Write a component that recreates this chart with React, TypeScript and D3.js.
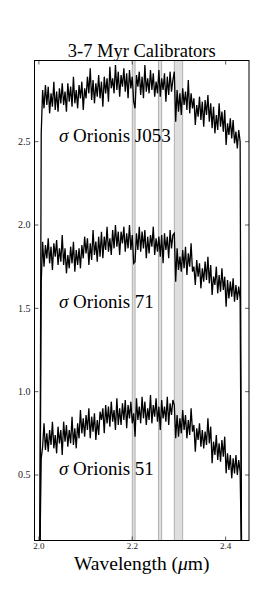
import React from 'react';
import * as d3 from 'd3';

const W = 277;
const H = 602;
const M = { left: 34.5, right: 249, top: 60.5, bottom: 540.5 };

const X_DOMAIN = [1.9906, 2.45];
const Y_DOMAIN = [0.107, 2.987];
const xTicks = [2.0, 2.2, 2.4];
const xTickLabels = ['2.0', '2.2', '2.4'];
const yTicks = [0.5, 1.0, 1.5, 2.0, 2.5];
const yTickLabels = ['0.5', '1.0', '1.5', '2.0', '2.5'];
const bands = [[2.2, 2.206], [2.256, 2.263], [2.29, 2.308]];
const starNames = ['J053', '71', '51'];
const labelY = [2.5, 1.5, 0.5];
const LABEL_X = 2.043;
const WL_START = 2.005;
const WL_STEP = 0.003;
const WL_EDGES = [2.002, 2.434];

const fluxJ053 = [
  2.55, 2.81, 2.70, 2.84, 2.72, 2.83, 2.67, 2.79, 2.71, 2.86, 2.69, 2.80, 2.68, 2.82, 2.73, 2.85,
  2.72, 2.80, 2.68, 2.85, 2.74, 2.83, 2.71, 2.89, 2.73, 2.81, 2.70, 2.84, 2.76, 2.86, 2.69, 2.82,
  2.76, 2.89, 2.79, 2.94, 2.75, 2.87, 2.73, 2.85, 2.77, 2.90, 2.76, 2.86, 2.71, 2.89, 2.79, 2.88,
  2.74, 2.95, 2.82, 2.88, 2.79, 2.96, 2.81, 2.92, 2.77, 2.90, 2.83, 2.94, 2.80, 2.91, 2.76, 2.93,
  2.82, 2.89, 2.74, 2.70, 2.90, 2.83, 2.92, 2.78, 2.89, 2.76, 2.96, 2.80, 2.88, 2.79, 2.93, 2.81,
  2.91, 2.77, 2.86, 2.79, 2.93, 2.77, 2.88, 2.81, 2.91, 2.74, 2.89, 2.78, 2.92, 2.80, 2.87, 2.92,
  2.62, 2.81, 2.68, 2.79, 2.66, 2.82, 2.72, 2.80, 2.69, 2.87, 2.67, 2.79, 2.70, 2.76, 2.60, 2.72,
  2.65, 2.77, 2.63, 2.74, 2.59, 2.75, 2.66, 2.78, 2.62, 2.73, 2.58, 2.71, 2.55, 2.66, 2.57, 2.73,
  2.59, 2.68, 2.56, 2.69, 2.48, 2.61, 2.54, 2.64, 2.52, 2.63, 2.49, 2.56, 2.46, 2.57, 2.50,
];

const flux71 = [
  1.66, 1.90, 1.75, 1.88, 1.80, 1.92, 1.77, 1.87, 1.73, 1.89, 1.81, 1.91, 1.76, 1.86, 1.78, 1.94,
  1.76, 1.86, 1.71, 1.82, 1.74, 1.87, 1.77, 1.90, 1.72, 1.85, 1.76, 1.86, 1.74, 1.88, 1.80, 1.93,
  1.83, 1.92, 1.76, 1.89, 1.79, 1.97, 1.82, 1.90, 1.78, 1.93, 1.81, 1.96, 1.80, 1.93, 1.85, 1.99,
  1.84, 1.92, 1.82, 1.97, 1.86, 2.00, 1.87, 1.96, 1.82, 1.96, 1.89, 1.99, 1.84, 1.95, 1.86, 2.00,
  1.85, 1.94, 1.77, 1.78, 1.95, 1.85, 1.99, 1.84, 1.96, 1.86, 1.97, 1.80, 1.93, 1.83, 1.94, 1.87,
  1.99, 1.82, 1.92, 1.84, 1.93, 1.81, 1.94, 1.77, 1.95, 1.85, 1.93, 1.80, 1.97, 1.86, 1.94, 1.95,
  1.66, 1.86, 1.73, 1.81, 1.72, 1.85, 1.74, 1.87, 1.70, 1.83, 1.75, 1.89, 1.72, 1.75, 1.64, 1.79,
  1.69, 1.77, 1.62, 1.74, 1.66, 1.78, 1.67, 1.81, 1.65, 1.76, 1.58, 1.69, 1.64, 1.75, 1.59, 1.70,
  1.60, 1.74, 1.61, 1.69, 1.51, 1.67, 1.56, 1.66, 1.57, 1.68, 1.54, 1.64, 1.55, 1.63, 1.56,
];

const flux51 = [
  0.60, 0.67, 0.81, 0.65, 0.75, 0.64, 0.77, 0.68, 0.82, 0.66, 0.74, 0.63, 0.79, 0.69, 0.77, 0.62,
  0.82, 0.70, 0.80, 0.67, 0.77, 0.69, 0.85, 0.68, 0.78, 0.66, 0.81, 0.72, 0.89, 0.75, 0.84, 0.73,
  0.86, 0.77, 0.90, 0.72, 0.85, 0.76, 0.87, 0.71, 0.83, 0.74, 0.88, 0.83, 0.90, 0.75, 0.92, 0.81,
  0.91, 0.79, 0.94, 0.82, 0.89, 0.77, 0.96, 0.80, 0.90, 0.80, 0.93, 0.83, 0.95, 0.78, 0.92, 0.84,
  0.94, 0.81, 0.87, 0.73, 0.96, 0.83, 0.91, 0.81, 0.97, 0.84, 0.94, 0.80, 0.90, 0.83, 0.98, 0.81,
  0.92, 0.85, 0.96, 0.82, 0.91, 0.77, 0.95, 0.84, 0.91, 0.82, 0.97, 0.80, 0.93, 0.86, 0.95, 0.92,
  0.72, 0.86, 0.73, 0.84, 0.75, 0.89, 0.77, 0.86, 0.72, 0.83, 0.74, 0.90, 0.76, 0.80, 0.64, 0.78,
  0.71, 0.81, 0.67, 0.77, 0.66, 0.76, 0.68, 0.84, 0.69, 0.79, 0.57, 0.70, 0.62, 0.74, 0.59, 0.69,
  0.58, 0.71, 0.61, 0.73, 0.51, 0.63, 0.53, 0.62, 0.48, 0.60, 0.51, 0.62, 0.50, 0.59, 0.52,
];

const spectra = [fluxJ053, flux71, flux51];

export default function App() {
  const x = d3.scaleLinear().domain(X_DOMAIN).range([M.left, M.right]);
  const y = d3.scaleLinear().domain(Y_DOMAIN).range([M.bottom, M.top]);
  const line = d3
    .line<[number, number]>()
    .x((d) => x(d[0]))
    .y((d) => y(d[1]));

  const paths = spectra.map((flux) => {
    const pts: [number, number][] = [[WL_EDGES[0], 0]];
    flux.forEach((v, i) => pts.push([WL_START + i * WL_STEP, v]));
    pts.push([WL_EDGES[1], 0]);
    return line(pts) || '';
  });

  const serif = 'Liberation Serif, DejaVu Serif, serif';
  const tickLen = 4;

  return (
    <div style={{ position: 'absolute', left: 0, top: 0 }}>
      <svg width={W} height={H} style={{ display: 'block', background: '#fff' }}>
        <defs>
          <clipPath id="plotclip">
            <rect x={M.left} y={M.top} width={M.right - M.left} height={M.bottom - M.top} />
          </clipPath>
        </defs>
        <rect x={0} y={0} width={W} height={H} fill="#fff" />
        <g clipPath="url(#plotclip)">
          {bands.map((b, i) => (
            <rect
              key={i}
              x={x(b[0])}
              y={M.top}
              width={x(b[1]) - x(b[0])}
              height={M.bottom - M.top}
              fill="#dedede"
              stroke="#a9a9a9"
              strokeWidth={0.9}
            />
          ))}
          {paths.map((p, i) => (
            <path key={i} d={p} fill="none" stroke="#000" strokeWidth={1.3} strokeLinejoin="miter" />
          ))}
        </g>
        {yTicks.map((t, i) => (
          <g key={'y' + i}>
            <line x1={M.left} x2={M.left + tickLen} y1={y(t)} y2={y(t)} stroke="#333" strokeWidth={0.8} />
            <line x1={M.right} x2={M.right - tickLen} y1={y(t)} y2={y(t)} stroke="#333" strokeWidth={0.8} />
            <text x={M.left - 4} y={y(t)} dy="0.33em" textAnchor="end" fontFamily={serif} fontSize={10} fill="#222">
              {yTickLabels[i]}
            </text>
          </g>
        ))}
        {xTicks.map((t, i) => (
          <g key={'x' + i}>
            <line x1={x(t)} x2={x(t)} y1={M.bottom} y2={M.bottom - tickLen} stroke="#333" strokeWidth={0.8} />
            <line x1={x(t)} x2={x(t)} y1={M.top} y2={M.top + tickLen} stroke="#333" strokeWidth={0.8} />
            <text x={x(t)} y={M.bottom + 8.5} textAnchor="middle" fontFamily={serif} fontSize={9} fill="#222">
              {xTickLabels[i]}
            </text>
          </g>
        ))}
        <rect
          x={M.left}
          y={M.top}
          width={M.right - M.left}
          height={M.bottom - M.top}
          fill="none"
          stroke="#000"
          strokeWidth={1}
        />
        {starNames.map((n, i) => (
          <text key={'l' + i} x={x(LABEL_X)} y={y(labelY[i])} fontFamily={serif} fontSize={19} fill="#000">
            <tspan fontStyle="italic">σ</tspan> Orionis {n}
          </text>
        ))}
        <text x={(M.left + M.right) / 2} y={56.5} textAnchor="middle" fontFamily={serif} fontSize={18.5} fill="#000">
          3-7 Myr Calibrators
        </text>
        <text x={(M.left + M.right) / 2} y={569.5} textAnchor="middle" fontFamily={serif} fontSize={19.5} fill="#000">
          Wavelength (<tspan fontStyle="italic">μ</tspan>m)
        </text>
      </svg>
    </div>
  );
}
